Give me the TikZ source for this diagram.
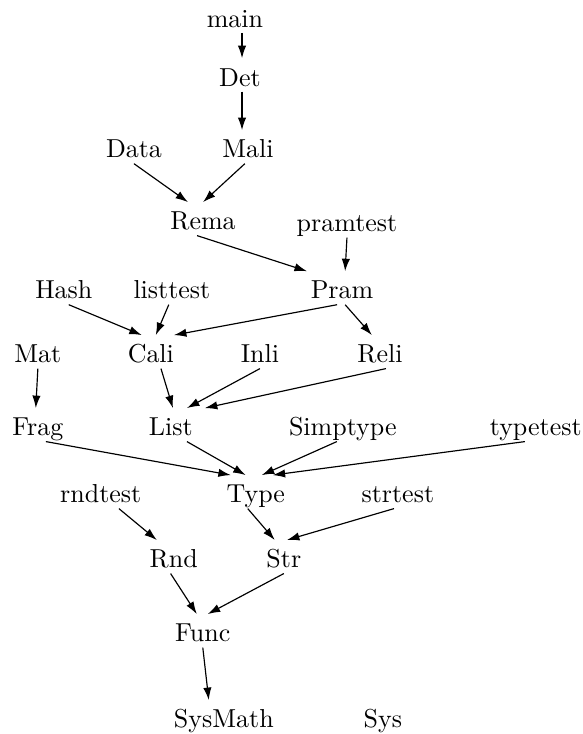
\documentclass[tikz,border=0pt]{standalone}
\usepackage{tikz}
\usetikzlibrary{positioning}
\usetikzlibrary{arrows.meta}

\tikzset{
    mod/.style={inner xsep=0pt, inner ysep=2pt, text height=8.5pt, text depth=0pt},
    dep/.style={-{Latex[length=4.8pt,width=3.2pt]}, line width=0.45pt},
}

\begin{document}
\begin{tikzpicture}[x=0.385pt, y=-0.385pt, on grid]
    \useasboundingbox (0,0) rectangle (582,734);

    \node [mod] (main) at (235,16) {main};
    \node [mod, below right=22.7pt and 1.9pt of main] (Det) {Det};
    \node [mod, below right=27.7pt and 3.1pt of Det] (Mali) {Mali};
    \node [mod, left=43.9pt of Mali] (Data) {Data};
    \node [mod, below right=27.7pt and 26.6pt of Data] (Rema) {Rema};
    \node [mod, below right=0.8pt and 55.4pt of Rema] (pramtest) {pramtest};

    \node [mod, below left=25.8pt and 1.9pt of pramtest] (Pram) {Pram};
    \node [mod, left=65.5pt of Pram] (listtest) {listtest};
    \node [mod, left=41.6pt of listtest] (Hash) {Hash};

    \node [mod, below left=24.6pt and 8.1pt of listtest] (Cali) {Cali};
    \node [mod, left=43.5pt of Cali] (Mat) {Mat};
    \node [mod, right=42pt of Cali] (Inli) {Inli};
    \node [mod, right=46.2pt of Inli] (Reli) {Reli};

    \node [mod, below right=28.1pt and 7.7pt of Cali] (List) {List};
    \node [mod, below=28.1pt of Mat] (Frag) {Frag};
    \node [mod, right=66.2pt of List] (Simptype) {Simptype};
    \node [mod, right=74.3pt of Simptype] (typetest) {typetest};

    \node [mod, below right=25.8pt and 32.7pt of List] (Type) {Type};
    \node [mod, left=59.7pt of Type] (rndtest) {rndtest};
    \node [mod, right=54.7pt of Type] (strtest) {strtest};

    \node [mod, below right=25pt and 10.8pt of Type] (Str) {Str};
    \node [mod, left=42.4pt of Str] (Rnd) {Rnd};
    \node [mod, below right=28.5pt and 11.2pt of Rnd] (Func) {Func};
    \node [mod, below right=33.1pt and 8.1pt of Func] (SysMath) {SysMath};
    \node [mod, right=61.2pt of SysMath] (Sys) {Sys};

    % dependencies
    \draw [dep] ([xshift=2.7pt]main.south) -- ([xshift=0.8pt]Det.north);
    \draw [dep] ([xshift=0.8pt]Det.south) -- ([xshift=-2.3pt]Mali.north);
    \draw [dep] (Data.south) -- ([xshift=-5.8pt]Rema.north);
    \draw [dep] ([xshift=-1.2pt]Mali.south) -- (Rema.north);
    \draw [dep] ([xshift=-2.3pt]Rema.south) -- ([xshift=-13.5pt]Pram.north);
    \draw [dep] (pramtest.south) -- ([xshift=1.2pt]Pram.north);
    \draw [dep] ([xshift=-1.9pt]Pram.south) -- ([xshift=8.9pt]Cali.north);
    \draw [dep] ([xshift=1.9pt]Hash.south) -- ([xshift=-3.5pt]Cali.north);
    \draw [dep] ([xshift=-1.2pt]listtest.south) -- ([xshift=1.9pt]Cali.north);
    \draw [dep] ([xshift=1.2pt]Pram.south) -- ([xshift=-3.1pt]Reli.north);
    \draw [dep] (Mat.south) -- ([xshift=-0.8pt]Frag.north);
    \draw [dep] ([xshift=3.9pt]Cali.south) -- ([xshift=0.8pt]List.north);
    \draw [dep] (Inli.south) -- ([xshift=6.2pt]List.north);
    \draw [dep] ([xshift=2.3pt]Reli.south) -- ([xshift=13.1pt]List.north);
    \draw [dep] ([xshift=3.1pt]Frag.south) -- ([xshift=-9.6pt]Type.north);
    \draw [dep] ([xshift=6.2pt]List.south) -- ([xshift=-3.9pt]Type.north);
    \draw [dep] ([xshift=-2.3pt]Simptype.south) -- ([xshift=2.3pt]Type.north);
    \draw [dep] ([xshift=-4.2pt]typetest.south) -- ([xshift=6.5pt]Type.north);
    \draw [dep] ([xshift=7pt]rndtest.south) -- ([xshift=-6.5pt]Rnd.north);
    \draw [dep] ([xshift=-3.1pt]Type.south) -- ([xshift=-3.5pt]Str.north);
    \draw [dep] ([xshift=-1.5pt]strtest.south) -- ([xshift=1.2pt]Str.north);
    \draw [dep] ([xshift=-1.2pt]Rnd.south) -- ([xshift=-2.3pt]Func.north);
    \draw [dep] (Str.south) -- ([xshift=1.9pt]Func.north);
    \draw [dep] (Func.south) -- ([xshift=-5.8pt]SysMath.north);

\end{tikzpicture}
\end{document}
